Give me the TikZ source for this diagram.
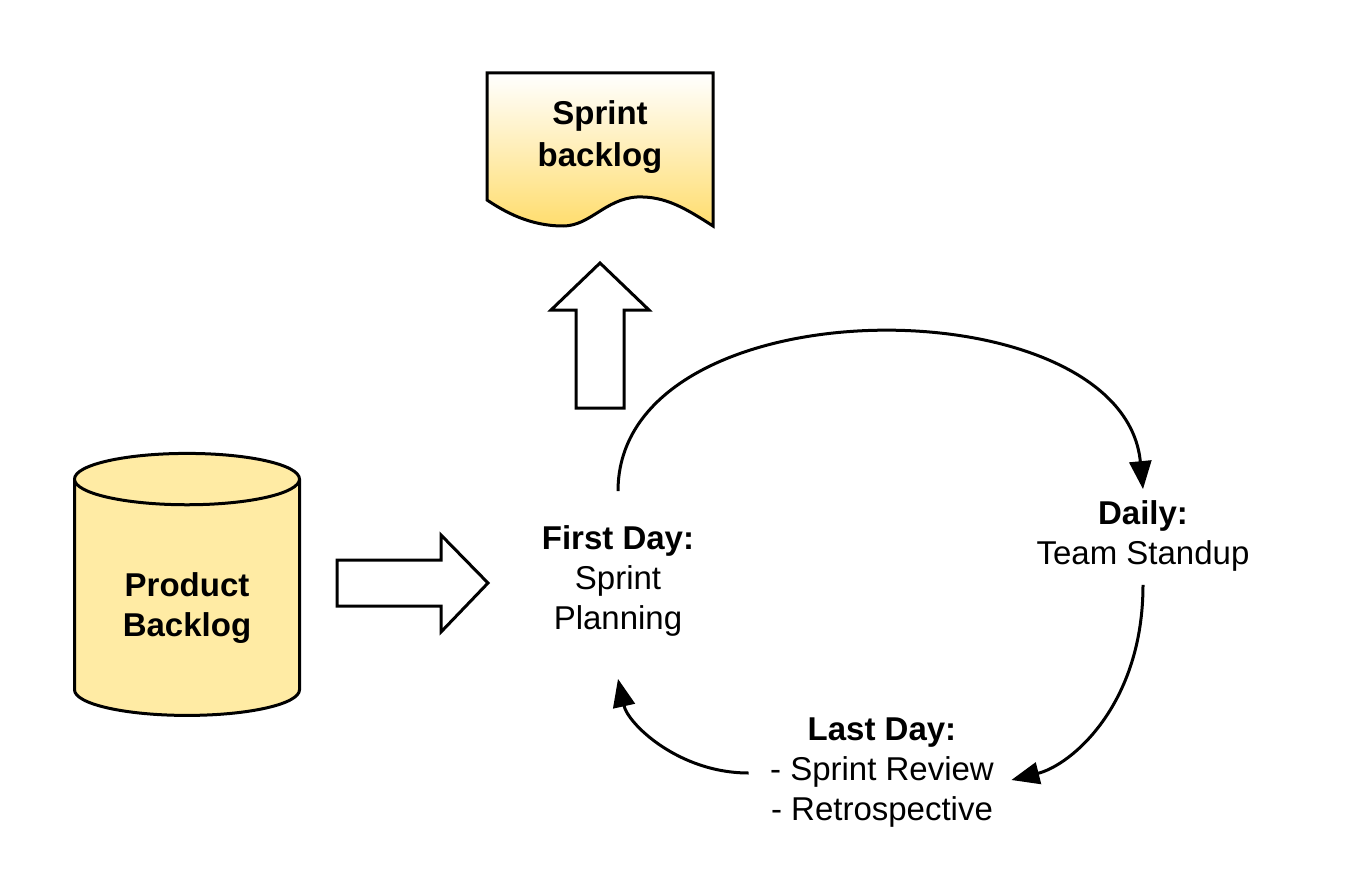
\documentclass[tikz,border=0pt]{standalone}
\usepackage{fontspec}
\setmainfont{Liberation Sans}
\usetikzlibrary{shapes.geometric,arrows.meta}
\definecolor{pbyellow}{HTML}{FFEBA4}
\definecolor{sbyellow}{HTML}{FFDD6E}
\begin{document}
\begin{tikzpicture}[x=1pt,y=-1pt,>={Triangle[length=28pt,width=22pt]},line width=3pt]
\tikzstyle{every node}=[align=center,inner sep=0pt,font=\fontsize{33}{40}\selectfont]
\tikzstyle{blockarrow}=[draw,fill=white,miter limit=10]
\useasboundingbox (0,0) rectangle (1348,885);
% sprint backlog document
\path[draw,top color=white,bottom color=sbyellow]
  (487,73) -- (713,73) -- (713,226)
  .. controls (685,208) and (665,196) .. (637,197)
  .. controls (605,199) and (590,226) .. (563,226)
  .. controls (530,226) and (505,212) .. (487,200) -- cycle;
\node[font=\fontsize{33}{42}\selectfont\bfseries](sb) at (600,137) {Sprint\\backlog};
% block arrows
\path[blockarrow] (600,263) -- (649,310) -- (624,310) -- (624,408)
  -- (576,408) -- (576,310) -- (551,310) -- cycle;
\path[blockarrow] (488,583) -- (441,535) -- (441,560) -- (337,560)
  -- (337,606) -- (441,606) -- (441,632) -- cycle;
% product backlog
\node[cylinder,shape border rotate=90,draw,fill=pbyellow,aspect=0.4,
  minimum width=225pt,minimum height=262pt,
  font=\fontsize{33}{40}\selectfont\bfseries](pb) at (187,598) {\rule{0pt}{44pt}Product\\Backlog};
% sprint cycle
\node(fd) at (618,581) {\textbf{First Day:}\\Sprint\\Planning};
\node(dl) at (1143,536) {\textbf{Daily:}\\Team Standup};
\node(ld) at (882,773) {\textbf{Last Day:}\\- Sprint Review\\- Retrospective};
\draw[->] ([yshift=33pt]fd.north) .. controls +(0,-210) and +(-20,-207) .. ([yshift=10pt]dl.north);
\draw[->] ([yshift=-12pt]dl.south) .. controls +(0,120) and +(60,-15) .. ([xshift=16pt,yshift=-7pt]ld.east);
\draw[->] ([xshift=-20pt]ld.west) .. controls +(-70,0) and +(10,45) .. ([yshift=-41pt]fd.south);
\end{tikzpicture}
\end{document}
